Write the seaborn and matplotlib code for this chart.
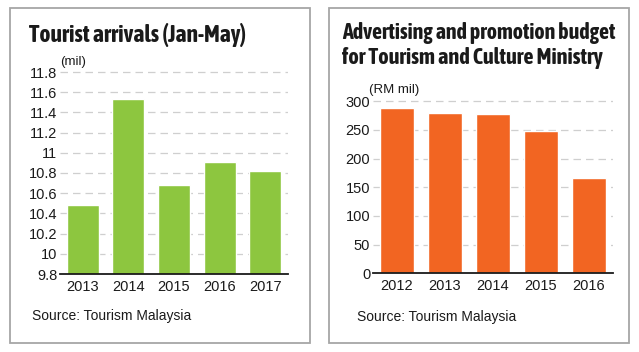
import matplotlib
matplotlib.use("Agg")
import matplotlib.pyplot as plt
import seaborn as sns
import pandas as pd
from matplotlib.patches import Rectangle
from matplotlib import font_manager

sns.set_theme(style="white")
plt.rcParams['font.family'] = ['Liberation Sans', 'DejaVu Sans']

# ---- data ----
arrival_years = ["2013", "2014", "2015", "2016", "2017"]
arrival_values = [10.48, 11.53, 10.68, 10.91, 10.82]
arrival_ticks = [9.8, 10, 10.2, 10.4, 10.6, 10.8, 11, 11.2, 11.4, 11.6, 11.8]
arrival_ticklabels = ["9.8", "10", "10.2", "10.4", "10.6", "10.8", "11", "11.2", "11.4", "11.6", "11.8"]

budget_years = ["2012", "2013", "2014", "2015", "2016"]
budget_values = [289, 279, 278, 249, 167]
budget_ticks = [0, 50, 100, 150, 200, 250, 300]

W, H = 639, 352
fig = plt.figure(figsize=(W / 100, H / 100), dpi=100)
fig.patch.set_facecolor("white")

def fx(px):
    return px / W

def fy(py):
    return 1 - py / H

# pick a condensed bold family if one is installed
cond = None
for f in font_manager.fontManager.ttflist:
    n = f.name.lower()
    if ("narrow" in n or "condensed" in n) and f.weight in (600, 700, 800, 900, "bold"):
        cond = f.name
        break
if cond is None:
    for f in font_manager.fontManager.ttflist:
        if f.stretch in ("condensed", "semi-condensed", "extra-condensed") :
            cond = f.name
            break
title_font = [cond, 'Liberation Sans'] if cond else ['Liberation Sans', 'DejaVu Sans']

# border boxes
for x0, x1 in [(10, 310), (329, 629)]:
    fig.patches.append(Rectangle((fx(x0), fy(343)), fx(x1 - x0), (343 - 8) / H,
                                 transform=fig.transFigure, fill=False,
                                 edgecolor="#a6a6a6", linewidth=1.3))

GREEN = "#8dc63f"
ORANGE = "#f26522"
GRID = "#cfcfcf"

def style_axes(ax, ticks, ticklabels, grid_ticks):
    ax.set_yticks(ticks)
    ax.set_yticklabels(ticklabels)
    ax.set_xlabel("")
    ax.set_ylabel("")
    for s in ["top", "right", "left"]:
        ax.spines[s].set_visible(False)
    ax.spines["bottom"].set_color("#1a1a1a")
    ax.spines["bottom"].set_linewidth(1.3)
    ax.spines["bottom"].set_zorder(5)
    ax.tick_params(axis="both", length=0, labelsize=10.5, colors="#1a1a1a", pad=4)
    ax.tick_params(axis="y", pad=2)
    ax.grid(False)
    for t in grid_ticks:
        ax.axhline(t, color=GRID, linestyle=(0, (6, 4)), linewidth=0.9, zorder=0)
    ax.set_facecolor("none")

# ---- left chart ----
yb, yt = 9.8, 11.85
pxu = 101.0
top_px = 274 - (yt - yb) * pxu
ax1 = fig.add_axes([fx(60), fy(274), fx(228), (274 - top_px) / H])
df1 = pd.DataFrame({"year": arrival_years, "value": arrival_values})
sns.barplot(data=df1, x="year", y="value", color=GREEN, saturation=1, width=0.7, ax=ax1, zorder=2)
ax1.set_ylim(yb, yt)
ax1.set_xlim(-0.5, 4.5)
style_axes(ax1, arrival_ticks, arrival_ticklabels, arrival_ticks[1:])
fig.text(fx(60), fy(62), "(mil)", fontsize=9.5, va="center", ha="left", color="#1a1a1a")
fig.text(fx(32), fy(316), "Source: Tourism Malaysia", fontsize=10, va="center", ha="left", color="#1a1a1a")

# ---- right chart ----
ppu = 0.5733
rt = 310
top_px2 = 273.3 - rt * ppu
ax2 = fig.add_axes([fx(373), fy(273.3), fx(240), (273.3 - top_px2) / H])
df2 = pd.DataFrame({"year": budget_years, "value": budget_values})
sns.barplot(data=df2, x="year", y="value", color=ORANGE, saturation=1, width=0.72, ax=ax2, zorder=2)
ax2.set_ylim(0, rt)
ax2.set_xlim(-0.5, 4.5)
style_axes(ax2, budget_ticks, [str(t) for t in budget_ticks], budget_ticks[1:])
fig.text(fx(369), fy(90), "(RM mil)", fontsize=9.5, va="center", ha="left", color="#1a1a1a")
fig.text(fx(357), fy(317), "Source: Tourism Malaysia", fontsize=10, va="center", ha="left", color="#1a1a1a")

# ---- titles (size fitted to the reference widths) ----
titles = [
    ("Tourist arrivals (Jan-May)", 29, 35, 221),
    ("Advertising and promotion budget", 342, 33, 275),
    ("for Tourism and Culture Ministry", 342, 58, 261),
]
renderer = fig.canvas.get_renderer()
for txt, x, y, target in titles:
    t = fig.text(fx(x), fy(y), txt, fontsize=15, fontweight="bold",
                 family=title_font, va="center", ha="left", color="#1a1a1a")
    w = t.get_window_extent(renderer).width
    t.set_fontsize(min(17, 15 * target / w))

fig.savefig("out.png", dpi=100, facecolor="white")
